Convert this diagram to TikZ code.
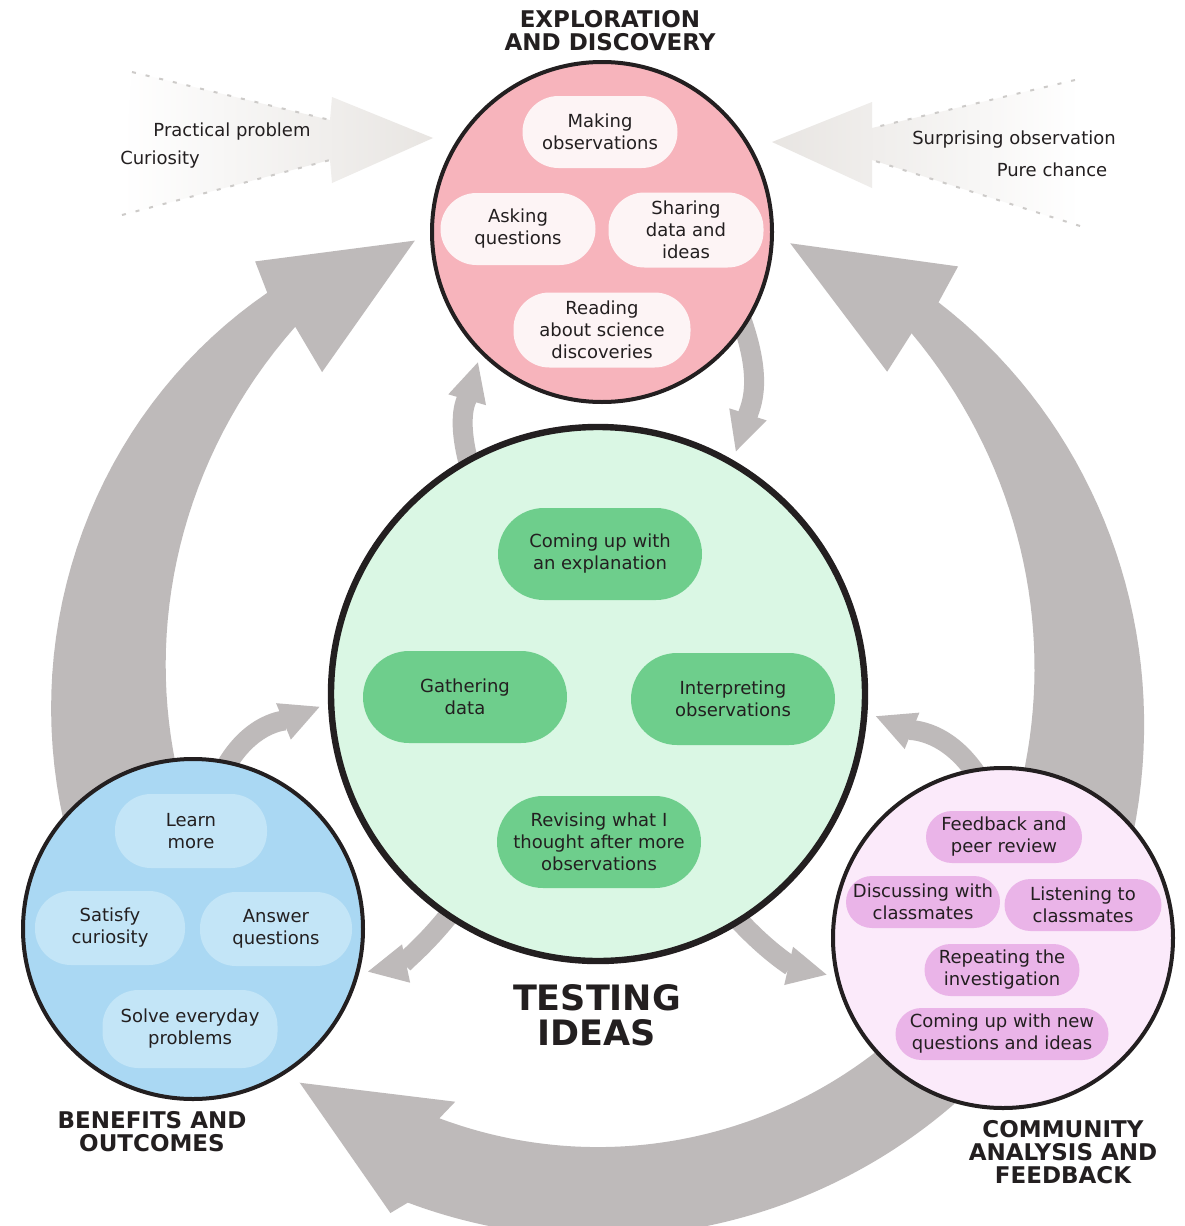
\documentclass[tikz,border=0pt]{standalone}
\usepackage{fontspec}
\setmainfont{DejaVu Sans}
\usepackage{tikz}
\usetikzlibrary{arrows.meta,backgrounds}
\usetikzlibrary{positioning}

\definecolor{flowgray}{RGB}{190,186,186}
\definecolor{inflowgray}{RGB}{232,229,226}
\definecolor{dotgray}{RGB}{205,203,201}
\definecolor{inkblack}{RGB}{35,31,32}
\definecolor{explorecol}{RGB}{247,180,188}
\definecolor{exploreitemcol}{RGB}{253,244,245}
\definecolor{testcol}{RGB}{218,247,228}
\definecolor{testitemcol}{RGB}{110,206,140}
\definecolor{benefitcol}{RGB}{170,216,243}
\definecolor{benefititemcol}{RGB}{195,229,247}
\definecolor{communitycol}{RGB}{251,234,250}
\definecolor{communityitemcol}{RGB}{234,180,232}

\tikzset{
    stage/.style={
           circle,
           draw=inkblack, line width=2pt,
           inner sep=0pt,
           },
}
\tikzset{
    item/.style={
           rectangle,
           inner sep=1pt,
           align=center,
           text=inkblack,
           font=\fontsize{9}{11}\selectfont,
           },
}
\tikzset{
    exploreitem/.style={
           item,
           fill=exploreitemcol,
           rounded corners=18pt,
           minimum width=77.5pt, minimum height=36pt,
           },
}
\tikzset{
    testitem/.style={
           item,
           fill=testitemcol,
           rounded corners=23pt,
           minimum width=102pt, minimum height=46pt,
           },
}
\tikzset{
    benefititem/.style={
           item,
           fill=benefititemcol,
           rounded corners=18pt,
           minimum width=76pt, minimum height=37pt,
           },
}
\tikzset{
    communityitem/.style={
           item,
           fill=communityitemcol,
           rounded corners=13pt,
           minimum width=78pt, minimum height=26pt,
           },
}
\tikzset{
    heading/.style={
           align=center,
           text=inkblack,
           font=\bfseries\fontsize{11.5}{11.5}\selectfont,
           },
}
\tikzset{
    cause/.style={
           text=inkblack,
           font=\fontsize{9}{11}\selectfont,
           },
}
\tikzset{
    smallflow/.style={
           draw=flowgray, line width=10pt,
           -{Triangle[length=20pt,width=18pt]},
           shorten <=-6pt, shorten >=4pt,
           },
}

\begin{document}
\begin{tikzpicture}[x=0.5pt,y=-0.5pt]
\useasboundingbox (0,0) rectangle (1184,1226);

% the four stages
\node[stage,fill=testcol,line width=3.2pt,minimum size=267pt](testing) at (598,694){};
\node[stage,fill=explorecol,minimum size=170pt](explore) at (602,232){};
\node[stage,fill=benefitcol,minimum size=170pt](benefit) at (193,929){};
\node[stage,fill=communitycol,minimum size=170pt](community) at (1003,938){};
\coordinate (hub) at (testing.center);

% exploration and discovery
\node[exploreitem](making) at (600,132){Making\\observations};
\node[exploreitem](asking) at (518,229){Asking\\questions};
\node[exploreitem,minimum height=37.5pt](sharing) at (686,230){Sharing\\data and\\ideas};
\node[exploreitem,minimum width=88.5pt,minimum height=37.5pt](reading) at (602,330){Reading\\about science\\discoveries};

% testing ideas
\node[testitem](explaining) at (600,554){Coming up with\\an explanation};
\node[testitem](gathering) at (465,697){Gathering\\data};
\node[testitem](interpreting) at (733,699){Interpreting\\observations};
\node[testitem](revising) at (599,842){Revising what I\\thought after more\\observations};

% benefits and outcomes
\node[benefititem](learn) at (191,831){Learn\\more};
\node[benefititem,minimum width=75pt](satisfy) at (110,928){Satisfy\\curiosity};
\node[benefititem](answer) at (276,929){Answer\\questions};
\node[benefititem,minimum width=87.5pt,minimum height=39pt](solve) at (190,1029){Solve everyday\\problems};

% community analysis and feedback
\node[communityitem](feedback) at (1004,837){Feedback and\\peer review};
\node[communityitem,minimum width=77pt](discussing) at (923,902){Discussing with\\classmates};
\node[communityitem,minimum width=78.5pt](listening) at (1083,905){Listening to\\classmates};
\node[communityitem,minimum width=77.5pt](repeating) at (1002,970){Repeating the\\investigation};
\node[communityitem,minimum width=106.5pt](newideas) at (1002,1034){Coming up with new\\questions and ideas};

% titles
\node[heading](exploretitle) at (610,31){EXPLORATION\\AND DISCOVERY};
\node[heading,font=\bfseries\fontsize{17.5}{17.5}\selectfont](testingtitle) at (597,1015){TESTING\\IDEAS};
\node[heading](benefittitle) at (152,1132){BENEFITS AND\\OUTCOMES};
\node[heading](communitytitle) at (1063,1152){COMMUNITY\\ANALYSIS AND\\FEEDBACK};

% what starts it
\node[cause](practical) at (232,132){Practical problem};
\node[cause](curiosity) at (160,160){Curiosity};
\node[cause](surprising) at (1014,140){Surprising observation};
\node[cause](chance) at (1052,170){Pure chance};

\begin{pgfonlayer}{background}
\fill[white] (0,0) rectangle (1184,1226);

% faint arrows into exploration
\shade[left color=white,middle color=inflowgray,right color=inflowgray] (132,72) -- (330,120) -- (332,97) -- (433,138) -- (332,183) -- (330,160) -- (122,215) -- cycle;
\draw[dotgray,line width=1pt,dash pattern=on 2pt off 5pt] (132,72) -- (330,120) (122,215) -- (330,160);
\shade[right color=white,middle color=inflowgray,left color=inflowgray] (1075,80) -- (872,128) -- (872,102) -- (772,142) -- (872,188) -- (872,160) -- (1080,226) -- cycle;
\draw[dotgray,line width=1pt,dash pattern=on 2pt off 5pt] (1075,80) -- (872,128) (1080,226) -- (872,160);

% big loop arrows round the testing stage
\begin{scope}[shift={(hub)},x=0.5pt,y=0.5pt]
\fill[flowgray] plot[domain=205:129.5,samples=40] (\x:{550-30*((205-\x)/75.5)^2}) -- (128.4:552) -- (112:489) -- (130.6:424) -- plot[domain=129.5:205,samples=40] (\x:{426+50*((205-\x)/75.5)^2}) -- cycle;
\fill[flowgray] plot[domain=-20:49,samples=40] (\x:{556-37*(\x+20)/69}) -- (49.9:559) -- (66.9:490) -- (48.1:433) -- plot[domain=49:-20,samples=40] (\x:{432+46*((\x+20)/69)^2}) -- cycle;
\fill[flowgray] (-25:543) arc[start angle=-25,end angle=-110.5,radius=543] -- (-111.8:559) -- (-127.5:490) -- (-109.3:432) -- (-110.5:453) arc[start angle=-110.5,end angle=-25,radius=453] -- cycle;
\end{scope}

% small arrows between the stages
\draw[smallflow] (testing.119) to[out=106,in=-106,looseness=1.1] (explore.225);
\draw[smallflow] (explore.-34) to[out=-70,in=72,looseness=1.1] (testing.60);
\draw[smallflow] (testing.236) to[out=232,in=12] (benefit.-15);
\draw[smallflow] (testing.-58) to[out=-48,in=167] (community.193);
\draw[smallflow] (benefit.78) to[out=62,in=-158] (testing.182);
\draw[smallflow] (community.100) to[out=122,in=-22] (testing.-4);
\end{pgfonlayer}
\end{tikzpicture}
\end{document}
